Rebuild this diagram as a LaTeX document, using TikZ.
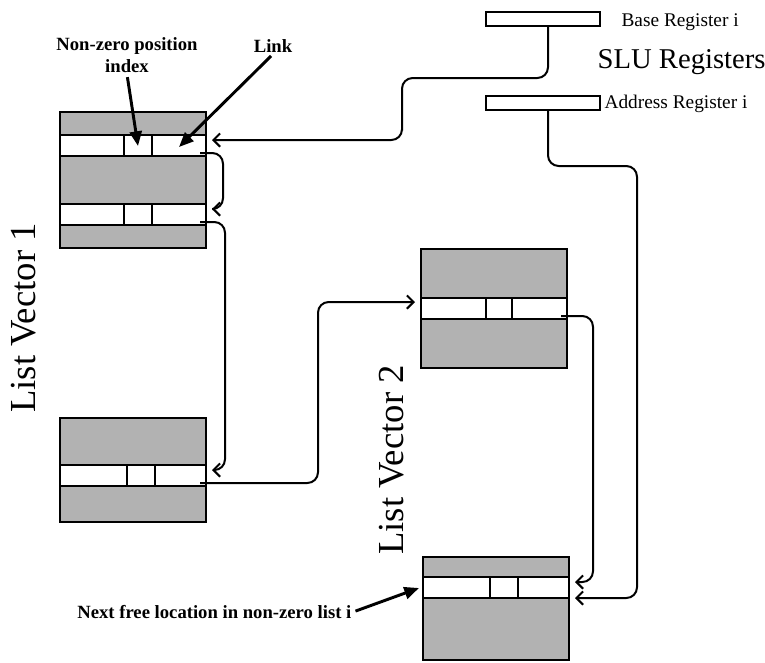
\documentclass[tikz,border=0pt]{standalone}
\usepackage{fontspec}
\setmainfont{Liberation Serif}
\usetikzlibrary{arrows.meta}

\tikzset{
  caja/.style={line width=2pt},
  gris/.style={fill=black!30},
  registro/.style={draw, line width=1.6pt, minimum width=85.5pt, minimum height=10.5pt, inner sep=0pt},
  enlace/.style={line width=1.5pt, rounded corners=8pt, -{Straight Barb[length=5pt,width=10pt]}},
  flecha/.style={line width=2.2pt, shorten <=2pt, -{Triangle[length=11pt,width=9pt]}},
  rotulo/.style={font=\bfseries\fontsize{14}{17}\selectfont, align=center, inner sep=1pt},
  texto/.style={font=\fontsize{14.5}{17}\selectfont, inner sep=1pt},
  titulo/.style={font=\fontsize{27.5}{30}\selectfont, rotate=90, inner sep=0pt},
}

% fila blanca de un vector: nombre, x izq, y arriba, divisor 1, divisor 2
\newcommand{\fila}[5]{%
  \draw[caja,fill=white] (#2,#3) rectangle ++(\ancho,\alto);
  \draw[caja] (#2+#4,#3) -- ++(0,\alto) (#2+#5,#3) -- ++(0,\alto);
  \coordinate (#1-in)   at (#2+\ancho+6,#3+5);
  \coordinate (#1-bajo) at (#2+\ancho+6,#3+\alto);
  \coordinate (#1-ent)  at (#2-6,#3+4);
  \coordinate (#1-out)  at (#2+\ancho-6,#3+\alto-3);
  \coordinate (#1-mid)  at (#2+#4/2+#5/2,#3+11);
  \coordinate (#1-der)  at (#2+#5/2+\ancho/2,#3+12);
  \coordinate (#1-izq)  at (#2-4,#3+11);
}

\begin{document}
\begin{tikzpicture}[x=0.75pt,y=-0.75pt]
  % parámetros
  \def\ancho{146}  % ancho de un vector
  \def\alto{21}    % alto de una fila
  \useasboundingbox (0,0) rectangle (765,662);

  %—————— List Vector 1 ——————————————————————————————————————
  % bloque superior
  \draw[caja,gris] (60,112) rectangle ++(\ancho,136);
  \fila{A1}{60}{135}{64}{92}
  \fila{A2}{60}{204}{64}{92}
  % bloque inferior
  \draw[caja,gris] (60,418) rectangle ++(\ancho,104);
  \fila{B}{60}{465}{67}{95}
  \node[titulo] (lv1) at (24,318) {List Vector 1};

  %—————— List Vector 2 ——————————————————————————————————————
  \draw[caja,gris] (421,249) rectangle ++(\ancho,119);
  \fila{C}{421}{298}{65}{91}
  \draw[caja,gris] (423,557) rectangle ++(\ancho,103);
  \fila{D}{423}{577}{67}{95}
  \node[titulo] (lv2) at (392,460) {List Vector 2};

  %—————— registros SLU ——————————————————————————————————————
  \node[registro] (base) at (543,19) {};
  \node[registro] (dir) at (543,103) {};
  \node[texto, anchor=west] (tbase) at (620,22) {Base Register i};
  \node[font=\fontsize{21.5}{24}\selectfont, anchor=west, inner sep=1pt] (slu) at (596,62) {SLU Registers};
  \node[texto, anchor=west] (tdir) at (603,104) {Address Register i};

  % enlaces
  \draw[enlace] ([xshift=3.75pt]base.south) -- (548,78) -| (402,120) |- (A1-in);
  \draw[enlace] (A1-out) -| (223,180) |- (A2-in);
  \draw[enlace] (A2-out) -| (225,400) |- (B-in);
  \draw[enlace] (B-out) -| (318,400) |- (C-ent);
  \draw[enlace] (C-out) -| (593,450) |- (D-in);
  \draw[enlace] ([xshift=3.75pt]dir.south) -- (548,166) -| (637,400) |- (D-bajo);

  % rótulos y flechas
  \node[rotulo] (indice) at (127,55) {Non-zero position\\index};
  \node[rotulo] (enl) at (273,46) {Link};
  \node[rotulo, anchor=east] (libre) at (353,612) {Next free location in non-zero list i};
  \draw[flecha] (indice.south) -- (A1-mid);
  \draw[flecha] (enl.south) -- (A1-der);
  \draw[flecha] (libre.east) -- (D-izq);
\end{tikzpicture}
\end{document}
